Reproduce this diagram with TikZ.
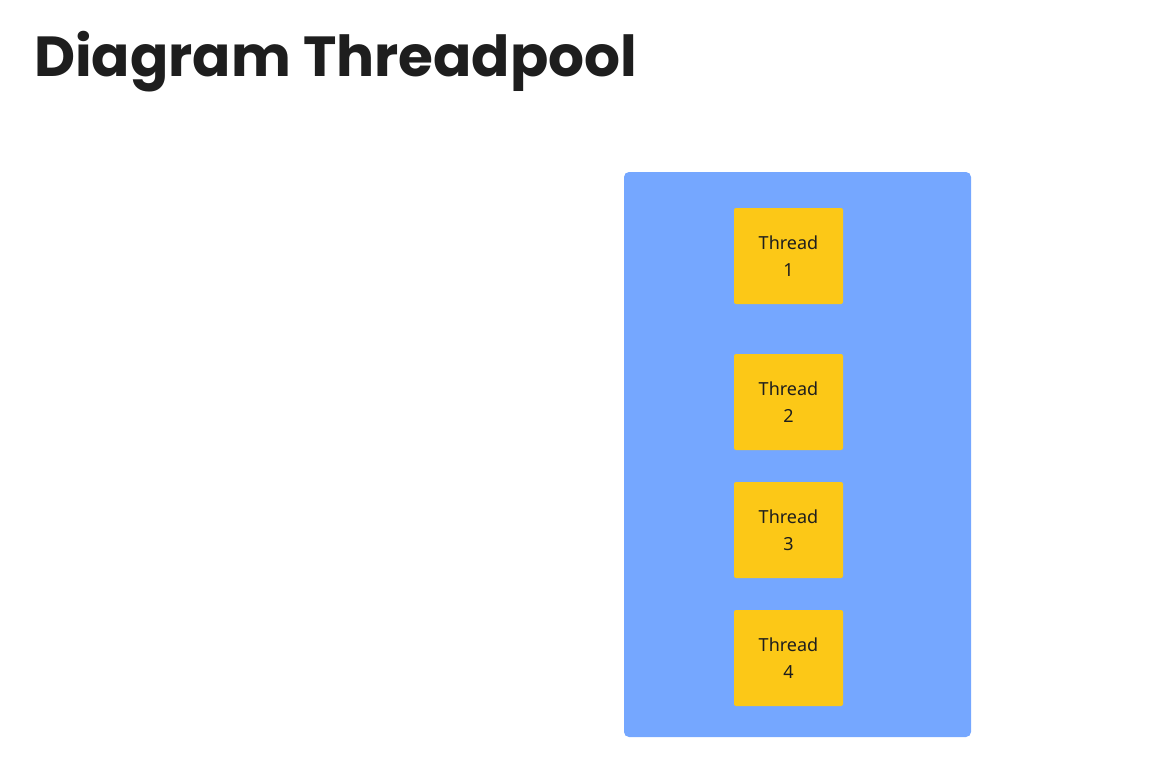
\documentclass[tikz,border=0pt]{standalone}
\usepackage{fontspec}
\setmainfont{Noto Sans}
\newfontfamily\titlefont{Poppins}
\definecolor{poolblue}{HTML}{75A7FF}
\definecolor{threadyellow}{HTML}{FCC817}
\definecolor{inkdark}{HTML}{1E1E1E}
\tikzset{
  pool/.style={fill=poolblue, draw=none, rounded corners=5pt},
  threadbox/.style={fill=threadyellow, draw=none, rounded corners=2pt,
    minimum width=109pt, minimum height=96pt, inner sep=0pt,
    align=center, text=inkdark, font=\fontsize{18pt}{27pt}\selectfont},
}
\begin{document}
\begin{tikzpicture}[x=1pt,y=-1pt]
\useasboundingbox (0,0) rectangle (1152,760);
\node[anchor=base west, inner sep=0pt, text=inkdark, font=\titlefont\bfseries\fontsize{56.5pt}{62pt}\selectfont] (title) at (34,77) {Diagram Threadpool};
\draw[pool] (624,172) rectangle (971,737);
\node[threadbox] (t1) at (788.5,256) {Thread\\1};
\node[threadbox] (t2) at (788.5,402) {Thread\\2};
\node[threadbox] (t3) at (788.5,530) {Thread\\3};
\node[threadbox] (t4) at (788.5,658) {Thread\\4};
\end{tikzpicture}
\end{document}
